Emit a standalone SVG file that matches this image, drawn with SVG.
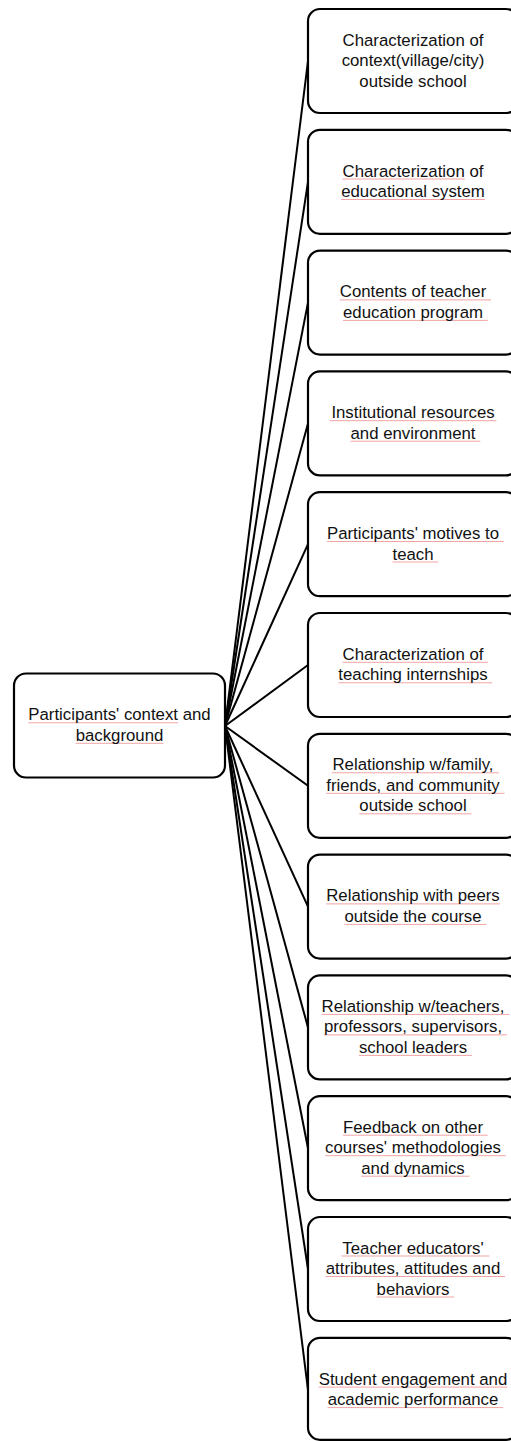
<svg xmlns="http://www.w3.org/2000/svg" width="511" height="1441" viewBox="0 0 511 1441">
<style>
.box{fill:#fff;stroke:#000;stroke-width:2.2}
.t{font-family:"Liberation Sans",Arial,sans-serif;font-size:16.8px;fill:#111;text-anchor:middle}
.con line{stroke:#000;stroke-width:2}
.ul{stroke:#f2a4a4;stroke-width:1}
</style>
<rect width="511" height="1441" fill="#fff"/>
<g id="connectors" class="con">
<line x1="225" y1="726" x2="308" y2="61"/>
<line x1="225" y1="726" x2="308" y2="181.8"/>
<line x1="225" y1="726" x2="308" y2="302.6"/>
<line x1="225" y1="726" x2="308" y2="423.4"/>
<line x1="225" y1="726" x2="308" y2="544.2"/>
<line x1="225" y1="726" x2="308" y2="665"/>
<line x1="225" y1="726" x2="308" y2="785.8"/>
<line x1="225" y1="726" x2="308" y2="906.6"/>
<line x1="225" y1="726" x2="308" y2="1027.4"/>
<line x1="225" y1="726" x2="308" y2="1148.2"/>
<line x1="225" y1="726" x2="308" y2="1269"/>
<line x1="225" y1="726" x2="308" y2="1389.8"/>
</g>
<g id="root">
<rect class="box" x="14" y="673.5" width="211" height="104" rx="12"/>
<line class="ul" x1="28.3" y1="722.8" x2="178" y2="722.8"/>
<line class="ul" x1="75.6" y1="743.3" x2="163.4" y2="743.3"/>
<text class="t" x="119.5" y="720.3">Participants' context and</text>
<text class="t" x="119.5" y="740.8">background</text>
</g>
<g id="n1">
<rect class="box" x="308" y="9" width="210" height="104" rx="12"/>
<text class="t" x="413" y="45.5">Characterization of</text>
<text class="t" x="413" y="66">context(village/city)</text>
<text class="t" x="413" y="86.5">outside school</text>
</g>
<g id="n2">
<rect class="box" x="308" y="129.8" width="210" height="104" rx="12"/>
<line class="ul" x1="342.5" y1="179" x2="464.8" y2="179"/>
<line class="ul" x1="341.1" y1="199.5" x2="484.9" y2="199.5"/>
<text class="t" x="413" y="176.5">Characterization of</text>
<text class="t" x="413" y="197">educational system</text>
</g>
<g id="n3">
<rect class="box" x="308" y="250.6" width="210" height="104" rx="12"/>
<line class="ul" x1="339.7" y1="299.9" x2="491" y2="299.9"/>
<line class="ul" x1="343" y1="320.4" x2="487.8" y2="320.4"/>
<text class="t" x="413" y="297.4">Contents of teacher</text>
<text class="t" x="413" y="317.9">education program</text>
</g>
<g id="n4">
<rect class="box" x="308" y="371.4" width="210" height="104" rx="12"/>
<line class="ul" x1="329.6" y1="420.7" x2="496.4" y2="420.7"/>
<line class="ul" x1="350.5" y1="441.2" x2="480.3" y2="441.2"/>
<text class="t" x="413" y="418.2">Institutional resources</text>
<text class="t" x="413" y="438.7">and environment</text>
</g>
<g id="n5">
<rect class="box" x="308" y="492.2" width="210" height="104" rx="12"/>
<line class="ul" x1="326.9" y1="541.5" x2="503.8" y2="541.5"/>
<line class="ul" x1="392.5" y1="562" x2="438.3" y2="562"/>
<text class="t" x="413" y="539">Participants' motives to</text>
<text class="t" x="413" y="559.5">teach</text>
</g>
<g id="n6">
<rect class="box" x="308" y="613" width="210" height="104" rx="12"/>
<line class="ul" x1="342.5" y1="662.3" x2="488.2" y2="662.3"/>
<line class="ul" x1="338.3" y1="682.8" x2="492.4" y2="682.8"/>
<text class="t" x="413" y="659.8">Characterization of</text>
<text class="t" x="413" y="680.3">teaching internships</text>
</g>
<g id="n7">
<rect class="box" x="308" y="733.8" width="210" height="104" rx="12"/>
<line class="ul" x1="331.8" y1="772.8" x2="498.9" y2="772.8"/>
<line class="ul" x1="326.2" y1="793.3" x2="504.6" y2="793.3"/>
<line class="ul" x1="359.3" y1="813.8" x2="471.4" y2="813.8"/>
<text class="t" x="413" y="770.3">Relationship w/family,</text>
<text class="t" x="413" y="790.8">friends, and community</text>
<text class="t" x="413" y="811.3">outside school</text>
</g>
<g id="n8">
<rect class="box" x="308" y="854.6" width="210" height="104" rx="12"/>
<line class="ul" x1="326.2" y1="903.9" x2="499.9" y2="903.9"/>
<line class="ul" x1="344.4" y1="924.4" x2="486.4" y2="924.4"/>
<text class="t" x="413" y="901.4">Relationship with peers</text>
<text class="t" x="413" y="921.9">outside the course</text>
</g>
<g id="n9">
<rect class="box" x="308" y="975.4" width="210" height="104" rx="12"/>
<line class="ul" x1="321.5" y1="1014.4" x2="509.2" y2="1014.4"/>
<line class="ul" x1="323.9" y1="1034.9" x2="506.9" y2="1034.9"/>
<line class="ul" x1="358.9" y1="1055.4" x2="471.9" y2="1055.4"/>
<text class="t" x="413" y="1011.9">Relationship w/teachers,</text>
<text class="t" x="413" y="1032.4">professors, supervisors,</text>
<text class="t" x="413" y="1052.9">school leaders</text>
</g>
<g id="n10">
<rect class="box" x="308" y="1096.2" width="210" height="104" rx="12"/>
<line class="ul" x1="343" y1="1135.2" x2="487.8" y2="1135.2"/>
<line class="ul" x1="325.1" y1="1155.7" x2="505.7" y2="1155.7"/>
<line class="ul" x1="361.2" y1="1176.2" x2="469.5" y2="1176.2"/>
<text class="t" x="413" y="1132.7">Feedback on other</text>
<text class="t" x="413" y="1153.2">courses' methodologies</text>
<text class="t" x="413" y="1173.7">and dynamics</text>
</g>
<g id="n11">
<rect class="box" x="308" y="1217" width="210" height="104" rx="12"/>
<line class="ul" x1="341.4" y1="1256" x2="489.4" y2="1256"/>
<line class="ul" x1="325.7" y1="1276.5" x2="505" y2="1276.5"/>
<line class="ul" x1="376.6" y1="1297" x2="454.1" y2="1297"/>
<text class="t" x="413" y="1253.5">Teacher educators'</text>
<text class="t" x="413" y="1274">attributes, attitudes and</text>
<text class="t" x="413" y="1294.5">behaviors</text>
</g>
<g id="n12">
<rect class="box" x="308" y="1337.8" width="210" height="102" rx="12"/>
<line class="ul" x1="318.7" y1="1387.1" x2="507.3" y2="1387.1"/>
<line class="ul" x1="327.6" y1="1407.6" x2="503.2" y2="1407.6"/>
<text class="t" x="413" y="1384.6">Student engagement and</text>
<text class="t" x="413" y="1405.1">academic performance</text>
</g>
</svg>
